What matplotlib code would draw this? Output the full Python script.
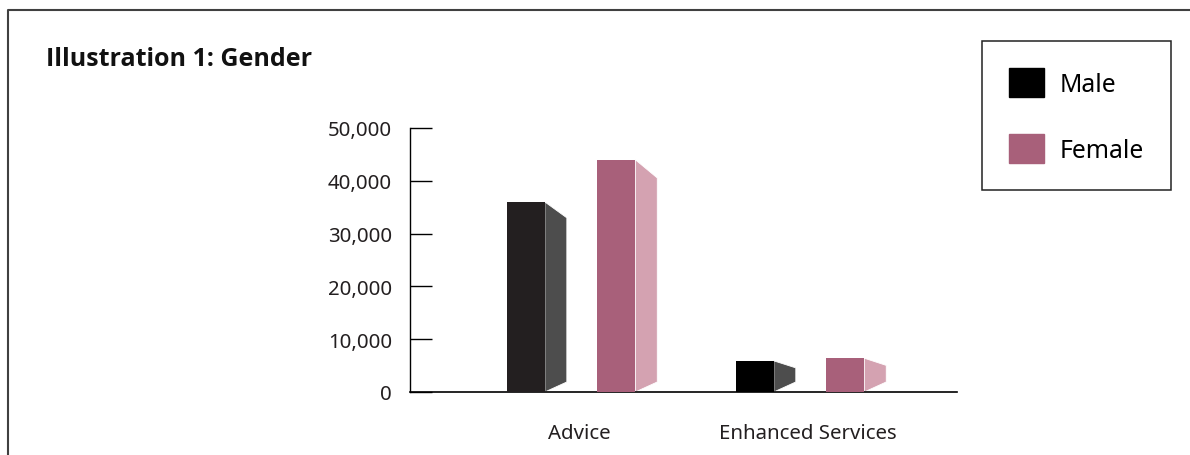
import matplotlib
matplotlib.use("Agg")
import matplotlib.pyplot as plt
from matplotlib.patches import Patch
from matplotlib.lines import Line2D

plt.rcParams['font.family'] = ['Noto Sans', 'DejaVu Sans']

categories = ["Advice", "Enhanced Services"]
male = [36000, 5900]
female = [44000, 6400]
yticks = [0, 10000, 20000, 30000, 40000, 50000]

male_front = ["#231f20", "#000000"]
male_side = "#4d4d4d"
female_front = "#a8607a"
female_side = "#d4a2b1"

fig = plt.figure(figsize=(11.9, 4.56), dpi=100)
ax = fig.add_axes([410/1190, 1-393/456, 547/1190, 264/456])

w = 0.166   # front face width
d = 0.096   # side face depth


def bar3d(x, v, front, side):
    ax.bar(x, v, width=w, align="edge", color=front, zorder=3)
    xr = x + w
    # side face in perspective
    ax.fill([xr, xr + d, xr + d, xr], [v, 0.944*v - 1000, 1900, 0],
            color=side, ec="white", lw=0.6, zorder=2)


for i in range(len(categories)):
    bar3d(i - 0.315, male[i], male_front[i], male_side)
    bar3d(i + 0.08, female[i], female_front, female_side)

ax.set_xlim(-0.738, 1.651)
ax.set_ylim(0, 50000)
ax.set_yticks(yticks)
ax.set_yticklabels([f"{t:,}" for t in yticks])
ax.set_xticks(range(len(categories)))
ax.set_xticklabels(categories)
ax.tick_params(axis="y", direction="in", length=16, width=1, pad=13,
               labelsize=14.7, labelcolor="#231f20")
ax.tick_params(axis="x", length=0, pad=22, labelsize=14.7, labelcolor="#231f20")
for s in ["top", "right"]:
    ax.spines[s].set_visible(False)
ax.spines["left"].set_linewidth(1)
ax.spines["bottom"].set_linewidth(1.2)

fig.text(46/1190, 1-60/456, "Illustration 1: Gender", fontsize=18,
         fontweight="bold", family=["Open Sans", "Lato", "DejaVu Sans"],
         va="center", ha="left", color="#111111")

# outer frame
fig.add_artist(Line2D([7.5/1190, 7.5/1190, 1.01], [-0.1, 1-10.5/456, 1-10.5/456],
                      color="#404040", lw=1.5, transform=fig.transFigure))

handles = [Patch(color="#000000", label="Male"),
           Patch(color=female_front, label="Female")]
leg = fig.legend(handles=handles, loc="upper left",
                 bbox_to_anchor=(982/1190, 1-42/456), borderaxespad=0,
                 prop={"size": 17.8}, handlelength=1.4, handleheight=1.42,
                 labelspacing=1.5, handletextpad=0.65, borderpad=1.1,
                 fancybox=False, edgecolor="#222222", framealpha=1)
leg.get_frame().set_linewidth(1.1)

fig.savefig("out.png", dpi=100)
